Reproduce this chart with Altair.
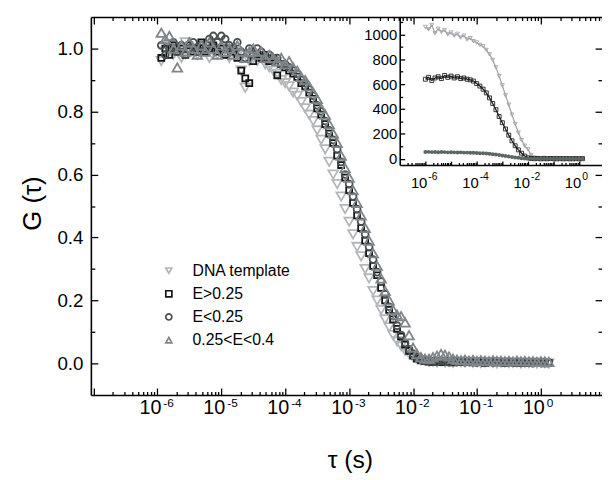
import altair as alt
import pandas as pd

FONT = "Liberation Sans"
W, H = 518, 383

# ---------------- main panel data (normalised G(tau)) ----------------
TAU = [
    1.15e-6, 1.33e-6, 1.54e-6, 1.78e-6, 2.05e-6, 2.37e-6, 2.74e-6, 3.16e-6,
    3.65e-6, 4.22e-6, 4.87e-6, 5.62e-6, 6.49e-6, 7.50e-6, 8.66e-6,
    1.00e-5, 1.15e-5, 1.33e-5, 1.54e-5, 1.78e-5, 2.05e-5, 2.37e-5, 2.74e-5,
    3.16e-5, 3.65e-5, 4.22e-5, 4.87e-5, 5.62e-5, 6.49e-5, 7.50e-5, 8.66e-5,
    1.00e-4, 1.15e-4, 1.33e-4, 1.54e-4, 1.78e-4, 2.05e-4, 2.37e-4, 2.74e-4,
    3.16e-4, 3.65e-4, 4.22e-4, 4.87e-4, 5.62e-4, 6.49e-4, 7.50e-4, 8.66e-4,
    1.00e-3, 1.15e-3, 1.33e-3, 1.54e-3, 1.78e-3, 2.05e-3, 2.37e-3, 2.74e-3,
    3.16e-3, 3.65e-3, 4.22e-3, 4.87e-3, 5.62e-3, 6.49e-3, 7.50e-3, 8.66e-3,
    1.00e-2, 1.15e-2, 1.33e-2, 1.54e-2, 1.78e-2, 2.05e-2, 2.37e-2, 2.74e-2,
    3.16e-2, 3.65e-2, 4.22e-2, 4.87e-2, 5.62e-2, 6.49e-2, 7.50e-2, 8.66e-2,
    1.00e-1, 1.15e-1, 1.33e-1, 1.54e-1, 1.78e-1, 2.05e-1, 2.37e-1, 2.74e-1,
    3.16e-1, 3.65e-1, 4.22e-1, 4.87e-1, 5.62e-1, 6.49e-1, 7.50e-1, 8.66e-1,
    1.00, 1.15, 1.33,
]

G_DNA = [
    0.96, 0.99, 1.01, 0.98, 1.00, 0.97, 1.02, 0.99, 1.00, 0.98,
    1.01, 0.99, 0.97, 1.00, 0.98, 0.99, 1.00, 0.97, 0.99, 0.98,
    0.93, 0.875, 0.96, 0.97, 0.96, 0.97, 0.95, 0.94, 0.93, 0.92,
    0.90, 0.89, 0.88, 0.86, 0.85, 0.83, 0.81, 0.79, 0.77, 0.74,
    0.71, 0.68, 0.64, 0.60, 0.57, 0.53, 0.49, 0.45, 0.41, 0.37,
    0.34, 0.30, 0.27, 0.23, 0.20, 0.17, 0.14, 0.115, 0.09, 0.07,
    0.055, 0.04, 0.03, 0.02, 0.015, 0.01, 0.008, 0.005, 0.006, 0.004,
    0.007, 0.003, 0.005, 0.002, 0.006, 0.004, 0.003, 0.005, 0.002, 0.004,
    0.001, 0.003, 0.005, 0.002, 0.000, 0.003, 0.004, 0.001, 0.002, 0.003,
    0.000, 0.002, 0.001, 0.003, 0.000, 0.002, 0.001, 0.000,
]
G_HI = [
    0.97, 1.00, 0.98, 1.01, 0.99, 1.00, 0.98, 1.01, 0.99, 1.00,
    1.02, 0.99, 1.00, 1.01, 0.99, 1.00, 0.98, 1.00, 0.99, 0.97,
    0.93, 0.905, 0.89, 0.96, 0.98, 0.97, 0.98, 0.96, 0.97, 0.915,
    0.95, 0.94, 0.93, 0.92, 0.91, 0.89, 0.88, 0.86, 0.84, 0.81,
    0.79, 0.76, 0.73, 0.70, 0.66, 0.63, 0.59, 0.55, 0.51, 0.47,
    0.43, 0.39, 0.35, 0.31, 0.28, 0.24, 0.20, 0.17, 0.14, 0.11,
    0.085, 0.06, 0.04, 0.025, 0.015, 0.01, 0.008, 0.006, 0.005, 0.008,
    0.004, 0.006, 0.007, 0.003, 0.005, 0.006, 0.004, 0.005, 0.003, 0.006,
    0.004, 0.002, 0.005, 0.004, 0.003, 0.005, 0.002, 0.004, 0.003, 0.001,
    0.004, 0.002, 0.003, 0.001, 0.003, 0.002, 0.000, 0.002,
]
G_LO = [
    1.01, 0.98, 1.00, 1.02, 0.99, 1.01, 0.98, 1.00, 1.02, 0.99,
    1.01, 1.00, 1.03, 1.04, 1.02, 1.04, 1.03, 1.01, 1.00, 1.02,
    0.99, 0.97, 1.00, 0.98, 1.00, 0.99, 0.97, 0.98, 0.96, 0.97,
    0.95, 0.95, 0.94, 0.93, 0.92, 0.90, 0.89, 0.87, 0.85, 0.82,
    0.80, 0.77, 0.74, 0.71, 0.68, 0.64, 0.60, 0.57, 0.53, 0.49,
    0.45, 0.41, 0.37, 0.33, 0.29, 0.26, 0.22, 0.18, 0.15, 0.12,
    0.09, 0.065, 0.045, 0.03, 0.02, 0.014, 0.01, 0.008, 0.007, 0.005,
    0.008, 0.006, 0.004, 0.007, 0.005, 0.006, 0.004, 0.007, 0.005, 0.003,
    0.006, 0.004, 0.005, 0.003, 0.006, 0.004, 0.002, 0.005, 0.003, 0.004,
    0.002, 0.004, 0.003, 0.001, 0.003, 0.002, 0.004, 0.002,
]
G_MID = [
    1.05, 1.03, 1.04, 1.00, 0.94, 1.01, 0.99, 1.02, 1.00, 0.98,
    1.01, 0.99, 1.02, 1.00, 0.98, 1.01, 0.99, 1.00, 0.98, 1.01,
    0.99, 0.97, 0.99, 1.00, 0.98, 0.99, 0.97, 0.98, 0.97, 0.96,
    0.97, 0.95, 0.96, 0.94, 0.93, 0.91, 0.90, 0.88, 0.86, 0.84,
    0.81, 0.79, 0.76, 0.73, 0.70, 0.66, 0.62, 0.59, 0.55, 0.51,
    0.47, 0.43, 0.39, 0.35, 0.31, 0.27, 0.23, 0.20, 0.17, 0.155,
    0.15, 0.13, 0.09, 0.05, 0.03, 0.02, 0.015, 0.015, 0.02, 0.025,
    0.03, 0.028, 0.022, 0.015, 0.012, 0.01, 0.012, 0.009, 0.011, 0.008,
    0.01, 0.009, 0.007, 0.01, 0.008, 0.009, 0.007, 0.008, 0.006, 0.009,
    0.007, 0.008, 0.006, 0.007, 0.005, 0.007, 0.006, 0.005,
]

SERIES = ["DNA template", "E>0.25", "E<0.25", "0.25<E<0.4"]
COLORS = ["#b3b7bb", "#141414", "#474f4e", "#7f868b"]
SHAPES = ["triangle-down", "square", "circle", "triangle-up"]
SIZES = [95, 36, 48, 95]

# ---------------- inset data (raw amplitude) ----------------
TAU_IN = [
    1.00e-6, 1.33e-6, 1.78e-6, 2.37e-6, 3.16e-6, 4.22e-6, 5.62e-6, 7.50e-6,
    1.00e-5, 1.33e-5, 1.78e-5, 2.37e-5, 3.16e-5, 4.22e-5, 5.62e-5, 7.50e-5,
    1.00e-4, 1.33e-4, 1.78e-4, 2.37e-4, 3.16e-4, 4.22e-4, 5.62e-4, 7.50e-4,
    1.00e-3, 1.33e-3, 1.78e-3, 2.37e-3, 3.16e-3, 4.22e-3, 5.62e-3, 7.50e-3,
    1.00e-2, 1.33e-2, 1.78e-2, 2.37e-2, 3.16e-2, 4.22e-2, 5.62e-2, 7.50e-2,
    1.00e-1, 1.33e-1, 1.78e-1, 2.37e-1, 3.16e-1, 4.22e-1, 5.62e-1, 7.50e-1,
    1.00, 1.33,
]
A_DNA = [
    1060, 1040, 1075, 1010, 1045, 1020, 1035, 1000, 1015, 990,
    1005, 975, 990, 960, 970, 945, 935, 915, 905, 875,
    840, 795, 735, 665, 590, 510, 435, 355, 280, 210,
    150, 105, 75, 30, 10, 6, 4, 7, 3, 5,
    2, 6, 4, 3, 5, 2, 4, 3, 1, 3,
]
A_HI = [
    640, 655, 630, 650, 660, 645, 670, 655, 665, 650,
    660, 645, 650, 640, 635, 625, 605, 585, 560, 530,
    490, 445, 395, 340, 290, 240, 190, 145, 105, 72,
    45, 22, 8, 3, 1, 2, 0, 1, 0, 2,
    1, 0, 1, 0, 1, 0, 0, 1, 0, 1,
]
A_LO = [
    55, 56, 54, 55, 53, 55, 54, 52, 53, 52,
    51, 52, 50, 50, 49, 48, 47, 45, 44, 42,
    40, 37, 34, 31, 27, 23, 19, 15, 11, 8,
    5, 3, 2, 1, 0, 1, 0, 1, 0, 0,
    1, 0, 1, 0, 0, 1, 0, 0, 1, 0,
]
IN_COLORS = ["#a2a6aa", "#1e1e1e", "#5c6664"]
IN_SHAPES = ["triangle-down", "square", "circle"]

# ---------------- axes / labels ----------------
X_DOM = [9.1e-8, 9.04]
Y_DOM = [-0.1, 1.1]
X_MAJOR = [1e-7, 1e-6, 1e-5, 1e-4, 1e-3, 1e-2, 1e-1, 1e0]
X_MINOR = [m * d for d in [1e-7, 1e-6, 1e-5, 1e-4, 1e-3, 1e-2, 1e-1, 1e0]
           for m in [2, 3, 4, 5, 6, 7, 8, 9]]
X_LABEL_TAU = [1e-6, 1e-5, 1e-4, 1e-3, 1e-2, 1e-1, 1e0]
X_LABEL_EXP = ["-6", "-5", "-4", "-3", "-2", "-1", "0"]
Y_MAJOR = [0.0, 0.2, 0.4, 0.6, 0.8, 1.0]
Y_MINOR = [0.1, 0.3, 0.5, 0.7, 0.9]

IN_X_DOM = [1e-7, 1e1]
IN_X_RANGE = [313, 521]
IN_Y_DOM = [-50, 1140]
IN_Y_RANGE = [150, 0]
IN_X_MAJOR = [1e-6, 1e-5, 1e-4, 1e-3, 1e-2, 1e-1, 1e0]
IN_X_MINOR = [m * d for d in [1e-7, 1e-6, 1e-5, 1e-4, 1e-3, 1e-2, 1e-1]
              for m in [2, 3, 4, 5, 6, 7, 8, 9]]
IN_LABEL_TAU = [1e-6, 1e-4, 1e-2, 1e0]
IN_LABEL_EXP = ["-6", "-4", "-2", "0"]
IN_Y_MAJOR = [0, 200, 400, 600, 800, 1000]
IN_Y_MINOR = [100, 300, 500, 700, 900, 1100]

X_TITLE = "τ (s)"
Y_TITLE = "G (τ)"

# ---------------- tables ----------------
rows = []
for name, vals in zip(SERIES, [G_DNA, G_HI, G_LO, G_MID]):
    for t, g in zip(TAU, vals):
        rows.append({"tau": t, "g": g, "series": name})
main = pd.DataFrame(rows)

inset_tables = [pd.DataFrame({"tau": TAU_IN, "v": vals}) for vals in [A_DNA, A_HI, A_LO]]

XS = alt.Scale(type="log", domain=X_DOM, nice=False)
YS = alt.Scale(domain=Y_DOM, nice=False, zero=False)
IXS = alt.Scale(type="log", domain=IN_X_DOM, range=IN_X_RANGE, nice=False)
IYS = alt.Scale(domain=IN_Y_DOM, range=IN_Y_RANGE, nice=False, zero=False)


def tick_axis(orient, values, size, offset_base=0, labels=False, **kw):
    return alt.Axis(orient=orient, values=values, tickSize=size,
                    offset=offset_base - size, domain=False, labels=labels,
                    grid=False, title=None, ticks=True, tickColor="black",
                    tickWidth=1.3, zindex=2, **kw)


def domain_axis(orient, offset=0):
    return alt.Axis(orient=orient, offset=offset, domain=True, domainColor="black",
                    domainWidth=1.6, ticks=False, labels=False, grid=False,
                    title=None, zindex=2)


def ghost(xaxis, yaxis):
    return alt.Chart(main).mark_point(opacity=0).encode(
        x=alt.X("tau:Q", scale=XS, axis=xaxis),
        y=alt.Y("g:Q", scale=YS, axis=yaxis),
    )


legend = alt.Legend(title=None, orient="none", legendX=71, legendY=249,
                    direction="vertical", labelFontSize=16, labelFont=FONT,
                    labelColor="black", symbolSize=38, symbolStrokeWidth=1.7,
                    labelOffset=16, rowPadding=7.5, padding=0)

color_enc = alt.Color("series:N", scale=alt.Scale(domain=SERIES, range=COLORS), legend=legend)
shape_enc = alt.Shape("series:N", scale=alt.Scale(domain=SERIES, range=SHAPES), legend=legend)

main_layers = []
for i, name in enumerate(SERIES):
    if i == 0:
        xa = tick_axis("bottom", X_MAJOR, 7)
        ya = tick_axis("left", Y_MAJOR, 7, labels=True, format=".1f",
                       labelFontSize=19, labelFont=FONT, labelColor="black",
                       labelPadding=8)
    else:
        xa = ya = None
    main_layers.append(
        alt.Chart(main).transform_filter(alt.datum.series == name)
        .mark_point(filled=False, strokeWidth=1.8, opacity=1, size=SIZES[i])
        .encode(
            x=alt.X("tau:Q", scale=XS, axis=xa),
            y=alt.Y("g:Q", scale=YS, axis=ya),
            color=color_enc,
            shape=shape_enc,
        )
    )

g2 = ghost(tick_axis("bottom", X_MINOR, 3.5), tick_axis("left", Y_MINOR, 4))
g3 = ghost(tick_axis("top", X_MAJOR, 7), tick_axis("right", Y_MAJOR, 7))
g4 = ghost(tick_axis("top", X_MINOR, 3.5), tick_axis("right", Y_MINOR, 4))
g5 = ghost(domain_axis("bottom"), domain_axis("left"))
g6 = ghost(domain_axis("top"), None)

# inset layers
inset_layers = []
for i, tbl in enumerate(inset_tables):
    if i == 0:
        xa_line = domain_axis("bottom", -(H - 150))
        ya_line = domain_axis("left", -313)
        xa_pt = tick_axis("bottom", IN_X_MAJOR, 4, offset_base=-(H - 150))
        ya_pt = tick_axis("left", IN_Y_MAJOR, 5, offset_base=-313, labels=True,
                          format="d", labelFontSize=15, labelFont=FONT,
                          labelColor="black", labelPadding=3)
    elif i == 1:
        xa_line = tick_axis("bottom", IN_X_MINOR, 2.5, offset_base=-(H - 150))
        ya_line = tick_axis("left", IN_Y_MINOR, 3, offset_base=-313)
        xa_pt = ya_pt = None
    else:
        xa_line = xa_pt = ya_line = ya_pt = None
    line = alt.Chart(tbl).mark_line(color=IN_COLORS[i], strokeWidth=1.3).encode(
        x=alt.X("tau:Q", scale=IXS, axis=xa_line),
        y=alt.Y("v:Q", scale=IYS, axis=ya_line),
    )
    pts = alt.Chart(tbl).mark_point(shape=IN_SHAPES[i], filled=(i == 2), size=16,
                                    strokeWidth=0.9, opacity=1,
                                    color=IN_COLORS[i]).encode(
        x=alt.X("tau:Q", scale=IXS, axis=xa_pt),
        y=alt.Y("v:Q", scale=IYS, axis=ya_pt),
    )
    inset_layers += [line, pts]

# tick labels of the form 10^n
lab = pd.DataFrame({"tau": X_LABEL_TAU, "exp": X_LABEL_EXP})
base10 = alt.Chart(lab).mark_text(text="10", align="right", baseline="alphabetic",
                                  dx=4, fontSize=20, font=FONT, color="black").encode(
    x=alt.X("tau:Q", scale=XS, axis=None), y=alt.value(H + 19))
exps = alt.Chart(lab).mark_text(align="left", baseline="alphabetic", dx=6,
                                fontSize=12, font=FONT, color="black").encode(
    x=alt.X("tau:Q", scale=XS, axis=None), y=alt.value(H + 12), text="exp:N")

ilab = pd.DataFrame({"tau": IN_LABEL_TAU, "exp": IN_LABEL_EXP})
ibase10 = alt.Chart(ilab).mark_text(text="10", align="right", baseline="alphabetic",
                                    dx=2, fontSize=15, font=FONT, color="black").encode(
    x=alt.X("tau:Q", scale=IXS, axis=None), y=alt.value(173))
iexps = alt.Chart(ilab).mark_text(align="left", baseline="alphabetic", dx=3,
                                  fontSize=10.5, font=FONT, color="black").encode(
    x=alt.X("tau:Q", scale=IXS, axis=None), y=alt.value(165), text="exp:N")

xt = alt.Chart(pd.DataFrame({"t": [X_TITLE]})).mark_text(
    fontSize=25, font=FONT, align="center", baseline="alphabetic", color="black").encode(
    x=alt.value(263), y=alt.value(457), text="t:N")
yt = alt.Chart(pd.DataFrame({"t": [Y_TITLE]})).mark_text(
    fontSize=26, font=FONT, align="center", baseline="middle", angle=270,
    color="black").encode(x=alt.value(-59), y=alt.value(189), text="t:N")

chart = alt.layer(
    g5, g6, g2, g3, g4, *inset_layers, *main_layers,
    base10, exps, ibase10, iexps, xt, yt
).resolve_scale(x="independent", y="independent").resolve_axis(
    x="independent", y="independent"
).properties(
    width=W, height=H,
    autosize=alt.AutoSizeParams(type="none"),
    padding={"left": 84, "top": 6, "right": 0, "bottom": 79},
    background="white",
).configure_view(stroke=None)

chart.save("out.html", embed_options={"renderer": "svg", "actions": False})
